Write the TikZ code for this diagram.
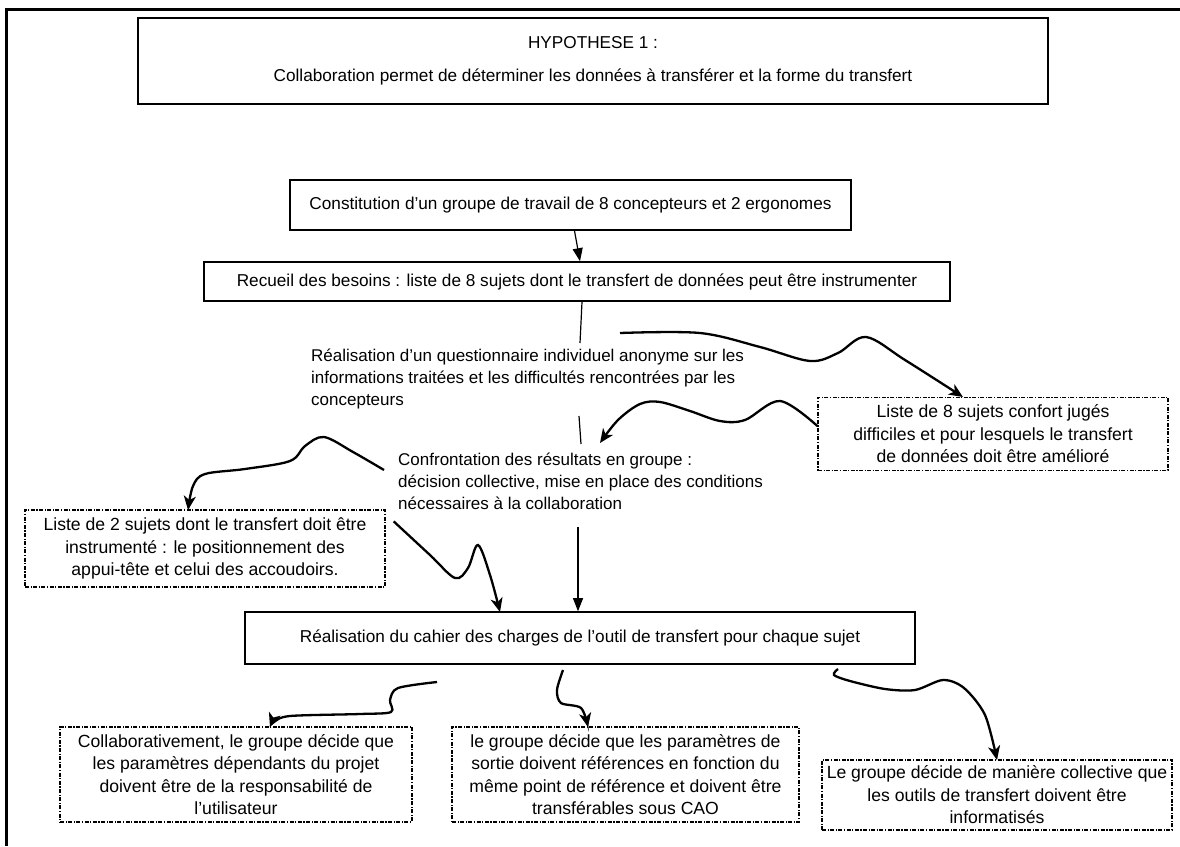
\documentclass[tikz,border=0pt]{standalone}
\usepackage{fontspec}
\setmainfont{Liberation Sans}
\usetikzlibrary{arrows.meta,calc}
\begin{document}
\begin{tikzpicture}[x=1pt,y=-1pt,
  solidbox/.style={draw,line width=1.6pt,inner sep=0pt,align=center,font=\fontsize{17.2}{18}\selectfont},
  dbox/.style={draw,line width=1.3pt,dash pattern=on 4pt off 1.5pt on 1.2pt off 1.5pt,inner sep=0pt,align=center,font=\fontsize{17.6}{22.5}\selectfont},
  freetext/.style={align=left,inner sep=0pt,anchor=north west,font=\fontsize{17}{22}\selectfont},
  conn/.style={line width=1.2pt,-{Triangle[length=13pt,width=10pt]}},
  plainline/.style={line width=1.2pt},
  wavy/.style={line width=2.3pt,-{Stealth[length=14pt,width=12pt,inset=4pt]}}
]
\useasboundingbox (0,0) rectangle (1180,846);
\fill[white] (0,0) rectangle (1180,846);
% outer frame (top and left edges)
\draw[line width=3pt] (1180,9) -- (6,9) -- (6,846);

% solid boxes
\node[solidbox,minimum width=910pt,minimum height=86pt] (hyp) at (593,61)
  {HYPOTHESE 1 :\\[15pt]Collaboration permet de déterminer les données à transférer et la forme du transfert};
\node[solidbox,minimum width=561pt,minimum height=50pt] (const) at (570.5,205)
  {Constitution d'un groupe de travail de 8 concepteurs et 2 ergonomes};
\node[solidbox,minimum width=746pt,minimum height=39pt] (recueil) at (577,281.5)
  {Recueil des besoins : liste de 8 sujets dont le transfert de données peut être instrumenter};
\node[solidbox,minimum width=670pt,minimum height=52pt] (real) at (580,638)
  {Réalisation du cahier des charges de l'outil de transfert pour chaque sujet};

% free texts
\node[freetext] (quest) at (311,349)
  {Réalisation d'un questionnaire individuel anonyme sur les\\informations traitées et les difficultés rencontrées par les\\concepteurs};
\node[freetext] (confr) at (398,453)
  {Confrontation des résultats en groupe :\\décision collective, mise en place des conditions\\nécessaires à la collaboration};

% dashed boxes
\node[dbox,minimum width=350pt,minimum height=73pt] (r1) at (993,434)
  {Liste de 8 sujets confort jugés\\difficiles et pour lesquels le transfert\\de données doit être amélioré};
\node[dbox,minimum width=360pt,minimum height=77pt] (l1) at (205,548.5)
  {Liste de 2 sujets dont le transfert doit être\\instrumenté : le positionnement des\\appui-tête et celui des accoudoirs.};
\node[dbox,minimum width=352pt,minimum height=95pt] (b1) at (236,774.5)
  {Collaborativement, le groupe décide que\\les paramètres dépendants du projet\\doivent être de la responsabilité de\\l'utilisateur};
\node[dbox,minimum width=347pt,minimum height=95pt] (b2) at (625.5,774.5)
  {le groupe décide que les paramètres de\\sortie doivent références en fonction du\\même point de référence et doivent être\\transférables sous CAO};
\node[dbox,minimum width=350pt,minimum height=70pt] (b3) at (997,795)
  {Le groupe décide de manière collective que\\les outils de transfert doivent être\\informatisés};

% straight connectors
\draw[conn] ([xshift=4pt]const.south) -- ([xshift=3pt]recueil.north);
\coordinate (q1) at (580,343);
\draw[plainline] ([xshift=5pt]recueil.south) -- (q1);
\coordinate (q2a) at (579,416);
\coordinate (q2b) at (581,444);
\draw[plainline] (q2a) -- (q2b);
\coordinate (c0) at (578,527);
\draw[conn] (c0) -- (c0 |- real.north);

% wavy connectors
\coordinate (s1) at (620,333);
\draw[wavy] plot[smooth,tension=0.55] coordinates
  {(s1) (700,333) (760,347) (810,361) (838,353) (866,337) (905,360) (963,397)};
\draw[wavy] plot[smooth,tension=0.55] coordinates
  {($(r1.west)+(0,-8)$) (780,401) (745,420) (720,421) (690,411) (660,402) (640,404) (618,420) (600,443)};
\coordinate (s3) at (384,470);
\draw[wavy] plot[smooth,tension=0.55] coordinates
  {(s3) (353,452) (324,437) (305,446) (290,461) (245,469) (205,474) (193,486) (188,510)};
\draw[wavy] plot[smooth,tension=0.55] coordinates
  {($(l1.north east)+(8,12)$) (430,555) (455,578) (468,568) (478,545) (490,575) (500,612)};
\coordinate (s5) at (437,682);
\draw[wavy] plot[smooth,tension=0.5] coordinates
  {(s5) (398,688) (390,700) (391,712) (360,714) (290,716) (274,722) (270,727)};
\coordinate (s6) at (563,670);
\draw[wavy] plot[smooth,tension=0.5] coordinates
  {(s6) (557,690) (561,703) (581,708) (588,727)};
\coordinate (s7) at (838,669);
\draw[wavy] plot[smooth,tension=0.5] coordinates
  {(s7) (834,675) (850,681) (885,689) (915,690) (943,680) (964,688) (985,715) (997,760)};
\end{tikzpicture}
\end{document}
